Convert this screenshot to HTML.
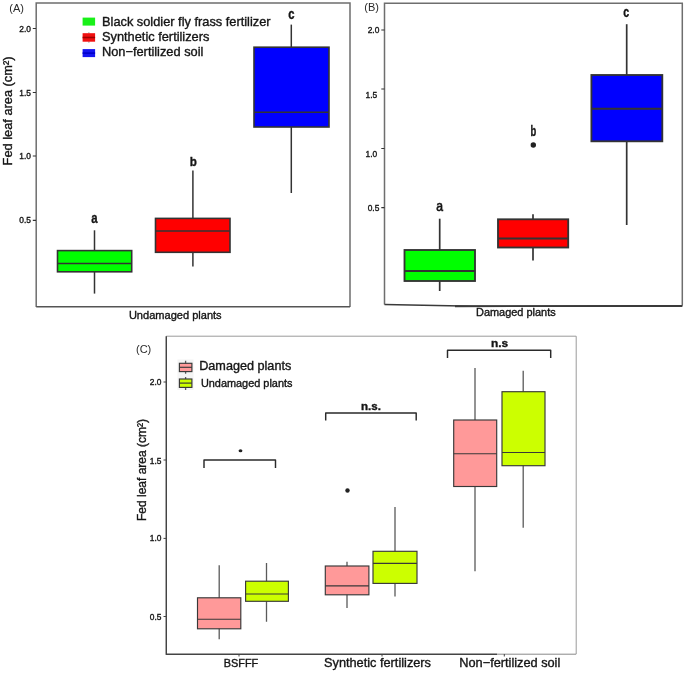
<!DOCTYPE html>
<html><head><meta charset="utf-8">
<style>
html,body{margin:0;padding:0;background:#fff;}
body{width:685px;height:673px;overflow:hidden;}
svg{display:block;font-family:"Liberation Sans",sans-serif;filter:blur(0.45px);}
text{fill:#151515;stroke:#151515;stroke-width:0.36px;}
.ax{stroke:#6e6e6e;stroke-width:1.5;fill:none;}
.bx{stroke:#333;stroke-width:1.6;}
.wl{stroke:#333;stroke-width:1.5;}
.cb{stroke:#383838;stroke-width:1.15;}
.cw{stroke:#5a5a5a;stroke-width:1.3;}
.tk{font-size:8.4px;fill:#5a5a5a;stroke:none;}
.pl{font-size:11px;fill:#2a2a2a;stroke:none;}
#pB .bx{stroke-width:1.85;}
#pB .wl{stroke-width:1.7;}
.br{stroke:#2a2a2a;stroke-width:1.45;fill:none;stroke-linejoin:round;}
</style></head>
<body>
<svg width="685" height="673" viewBox="0 0 685 673">
<rect width="685" height="673" fill="#fff"/>

<!-- ============ PANEL A ============ -->
<g id="pA">
<path class="ax" d="M36.2,307 V3 H350 V307"/>
<path d="M36.2,306.8 H350" stroke="#555" stroke-width="1.4" fill="none"/>
<text x="9.3" y="12" class="pl">(A)</text>
<g class="tk" text-anchor="end">
<text x="31" y="31.5">2.0</text><text x="31" y="95.5">1.5</text><text x="31" y="159">1.0</text><text x="31" y="223.3">0.5</text>
</g>
<path d="M32.8,28.5H36 M32.8,92.5H36 M32.8,156H36 M32.8,220.3H36" stroke="#333" stroke-width="1.2"/>
<text transform="translate(11.6,111) rotate(-90)" text-anchor="middle" font-size="12.8">Fed leaf area (cm²)</text>
<!-- legend -->
<rect x="82.6" y="17.6" width="12.5" height="8" fill="#19f019"/>
<path d="M88.9,32V43" stroke="#999" stroke-width="0.8"/>
<rect x="82.6" y="33.2" width="12.5" height="8.5" fill="#f01010"/>
<path d="M82.6,37.5H95.1" stroke="#a00000" stroke-width="1.6"/>
<rect x="82.6" y="49.1" width="12.5" height="8" fill="#1515f0"/>
<path d="M82.6,53.1H95.1" stroke="#0000c8" stroke-width="1.6"/>
<text x="102" y="25.6" font-size="12.8">Black soldier fly frass fertilizer</text>
<text x="102" y="40.9" font-size="12.8">Synthetic fertilizers</text>
<text x="102" y="56.1" font-size="12.8">Non−fertilized soil</text>
<!-- green -->
<path class="wl" d="M94.5,230.3V293.6"/>
<rect class="bx" x="57.5" y="250.6" width="74.2" height="21.2" fill="#00ff00"/>
<path class="bx" d="M57.5,263.5H131.7"/>
<text transform="translate(94.5,222.7) scale(0.76,1)" text-anchor="middle" font-size="15" font-weight="bold">a</text>
<!-- red -->
<path class="wl" d="M192.9,170.5V266.5"/>
<rect class="bx" x="155.5" y="218.4" width="74.5" height="33.9" fill="#ff0000"/>
<path class="bx" d="M155.5,231H230"/>
<text transform="translate(193.4,166.3) scale(0.85,1)" text-anchor="middle" font-size="13.7" font-weight="bold">b</text>
<!-- blue -->
<path class="wl" d="M291.3,24.6V193"/>
<rect class="bx" x="254" y="47.2" width="75" height="79.8" fill="#0000ff"/>
<path class="bx" d="M254,112.3H329"/>
<text transform="translate(291.3,19.3) scale(0.78,1)" text-anchor="middle" font-size="14.4" font-weight="bold">c</text>
<text x="128.9" y="318.5" font-size="11.05">Undamaged plants</text>
</g>

<!-- ============ PANEL B ============ -->
<g id="pB">
<path class="ax" d="M384.5,304.5 V3.2 H682.3 V305.5"/>
<path d="M384.5,304.6 L475,306.2 L682.3,305.8" stroke="#3a3a3a" stroke-width="1.5" fill="none"/><path d="M455,306.2 L682.3,306" stroke="#3a3a3a" stroke-width="1.9" fill="none"/>
<text x="364.3" y="11.3" class="pl">(B)</text>
<g class="tk" text-anchor="end">
<text x="379.3" y="33.3">2.0</text><text x="377.2" y="98.3">1.5</text><text x="377.2" y="157.3">1.0</text><text x="379.3" y="211.3">0.5</text>
</g>
<path d="M381.3,30H384.5 M381.3,89H384.5 M381.3,148.5H384.5 M381.3,207.7H384.5" stroke="#333" stroke-width="1.2"/>
<!-- green -->
<path class="wl" d="M439.7,218.7V291"/>
<rect class="bx" x="404.5" y="250" width="70.5" height="31" fill="#00ff00"/>
<path class="bx" d="M404.5,271H475"/>
<text transform="translate(439.7,211) scale(0.8,1)" text-anchor="middle" font-size="15.2" style="stroke-width:0.7px">a</text>
<!-- red -->
<path class="wl" d="M533,214.3V260.5"/>
<rect class="bx" x="498" y="219.3" width="70.2" height="28.2" fill="#ff0000"/>
<path class="bx" d="M498,238.5H568.2"/>
<circle cx="533.3" cy="145" r="2.7" fill="#222"/>
<text transform="translate(533.3,136) scale(0.66,1)" text-anchor="middle" font-size="14.2" font-weight="bold">b</text>
<!-- blue -->
<path class="wl" d="M626.7,24.2V225"/>
<rect class="bx" x="591.4" y="75" width="70.9" height="66.3" fill="#0000ff"/>
<path class="bx" d="M591.4,108.7H662.3"/>
<text transform="translate(626.3,16.6) scale(0.72,1)" text-anchor="middle" font-size="14.8" font-weight="bold">c</text>
<text x="476" y="315.9" font-size="10.95">Damaged plants</text>
</g>

<!-- ============ PANEL C ============ -->
<g id="pC">
<path d="M166.3,654 V336.2 H576.2 V654" stroke="#9a9a9a" stroke-width="1" fill="none"/>
<path d="M166.3,336.2 V654.3 H497" stroke="#444" stroke-width="1.4" fill="none"/>
<path d="M497,654.2H576.2" stroke="#888" stroke-width="1" fill="none"/>
<text x="136" y="353" class="pl">(C)</text>
<g class="tk" text-anchor="end">
<text x="161.5" y="385">2.0</text><text x="161.5" y="463.5">1.5</text><text x="161.5" y="541.4">1.0</text><text x="161.5" y="619.5">0.5</text>
</g>
<path d="M163.5,382H166.3 M163.5,460H166.3 M163.5,538.4H166.3 M163.5,616.5H166.3 M239,654V656.5 M382,654V656.5 M504.3,654V656.5" stroke="#444" stroke-width="1"/>
<text transform="translate(145.7,470) rotate(-90)" text-anchor="middle" font-size="12">Fed leaf area (cm²)</text>
<!-- legend -->
<rect x="177.5" y="359.5" width="16" height="30.5" fill="#f4f4f4"/>
<path class="cw" d="M185.6,360.8V373.7 M185.6,376.9V390"/>
<rect class="cb" x="179.4" y="363.3" width="12.5" height="8.3" fill="#ff9999" stroke-width="0.9"/>
<path class="cb" d="M179.4,367.3H191.9" stroke-width="1.3"/>
<rect class="cb" x="179.4" y="379" width="12.5" height="8.4" fill="#ccff00" stroke-width="0.9"/>
<path class="cb" d="M179.4,383.1H191.9" stroke-width="1.3"/>
<text x="199.2" y="370.2" font-size="12.65">Damaged plants</text>
<text x="200.9" y="386.6" font-size="10.92">Undamaged plants</text>
<!-- group 1 -->
<path class="cw" d="M219.2,565.2V639.2 M266.5,563V621.8"/>
<rect class="cb" x="197.5" y="597.8" width="43.3" height="31" fill="#ff9999"/>
<path class="cb" d="M197.5,619.2H240.8"/>
<rect class="cb" x="245.6" y="581.2" width="42.8" height="20.1" fill="#ccff00"/>
<path class="cb" d="M245.6,594H288.4"/>
<path class="br" d="M204,468V460H275.5V468"/>
<ellipse cx="240.5" cy="450.7" rx="1.9" ry="1.5" fill="#222"/>
<!-- group 2 -->
<path class="cw" d="M347,561.7V608 M395,507V596.5"/>
<rect class="cb" x="325.3" y="566" width="43.6" height="28.8" fill="#ff9999"/>
<path class="cb" d="M325.3,585.8H368.9"/>
<rect class="cb" x="373" y="551.3" width="44" height="32.1" fill="#ccff00"/>
<path class="cb" d="M373,563.3H417"/>
<circle cx="347.5" cy="490.5" r="2.2" fill="#222"/>
<path class="br" d="M325.7,420.5V413H416.2V420.5"/>
<text transform="translate(371,409.9) scale(1.05,1)" text-anchor="middle" font-size="11" font-weight="bold">n.s.</text>
<!-- group 3 -->
<path class="cw" d="M475,368V571.3 M523.2,370.7V527.7"/>
<rect class="cb" x="453.7" y="420" width="43" height="66.5" fill="#ff9999"/>
<path class="cb" d="M453.7,453.7H496.7"/>
<rect class="cb" x="502" y="391.7" width="43" height="74" fill="#ccff00"/>
<path class="cb" d="M502,452.5H545"/>
<path class="br" d="M447.5,358V350.2H550.7V358"/>
<text transform="translate(499.6,346.6) scale(1.08,1)" text-anchor="middle" font-size="11" font-weight="bold">n.s</text>
<!-- x labels -->
<text x="241" y="666.7" text-anchor="middle" font-size="10.9">BSFFF</text>
<text x="377.5" y="667" text-anchor="middle" font-size="12.75">Synthetic fertilizers</text>
<text x="509.8" y="667" text-anchor="middle" font-size="12.75">Non−fertilized soil</text>
</g>
</svg>
</body></html>
